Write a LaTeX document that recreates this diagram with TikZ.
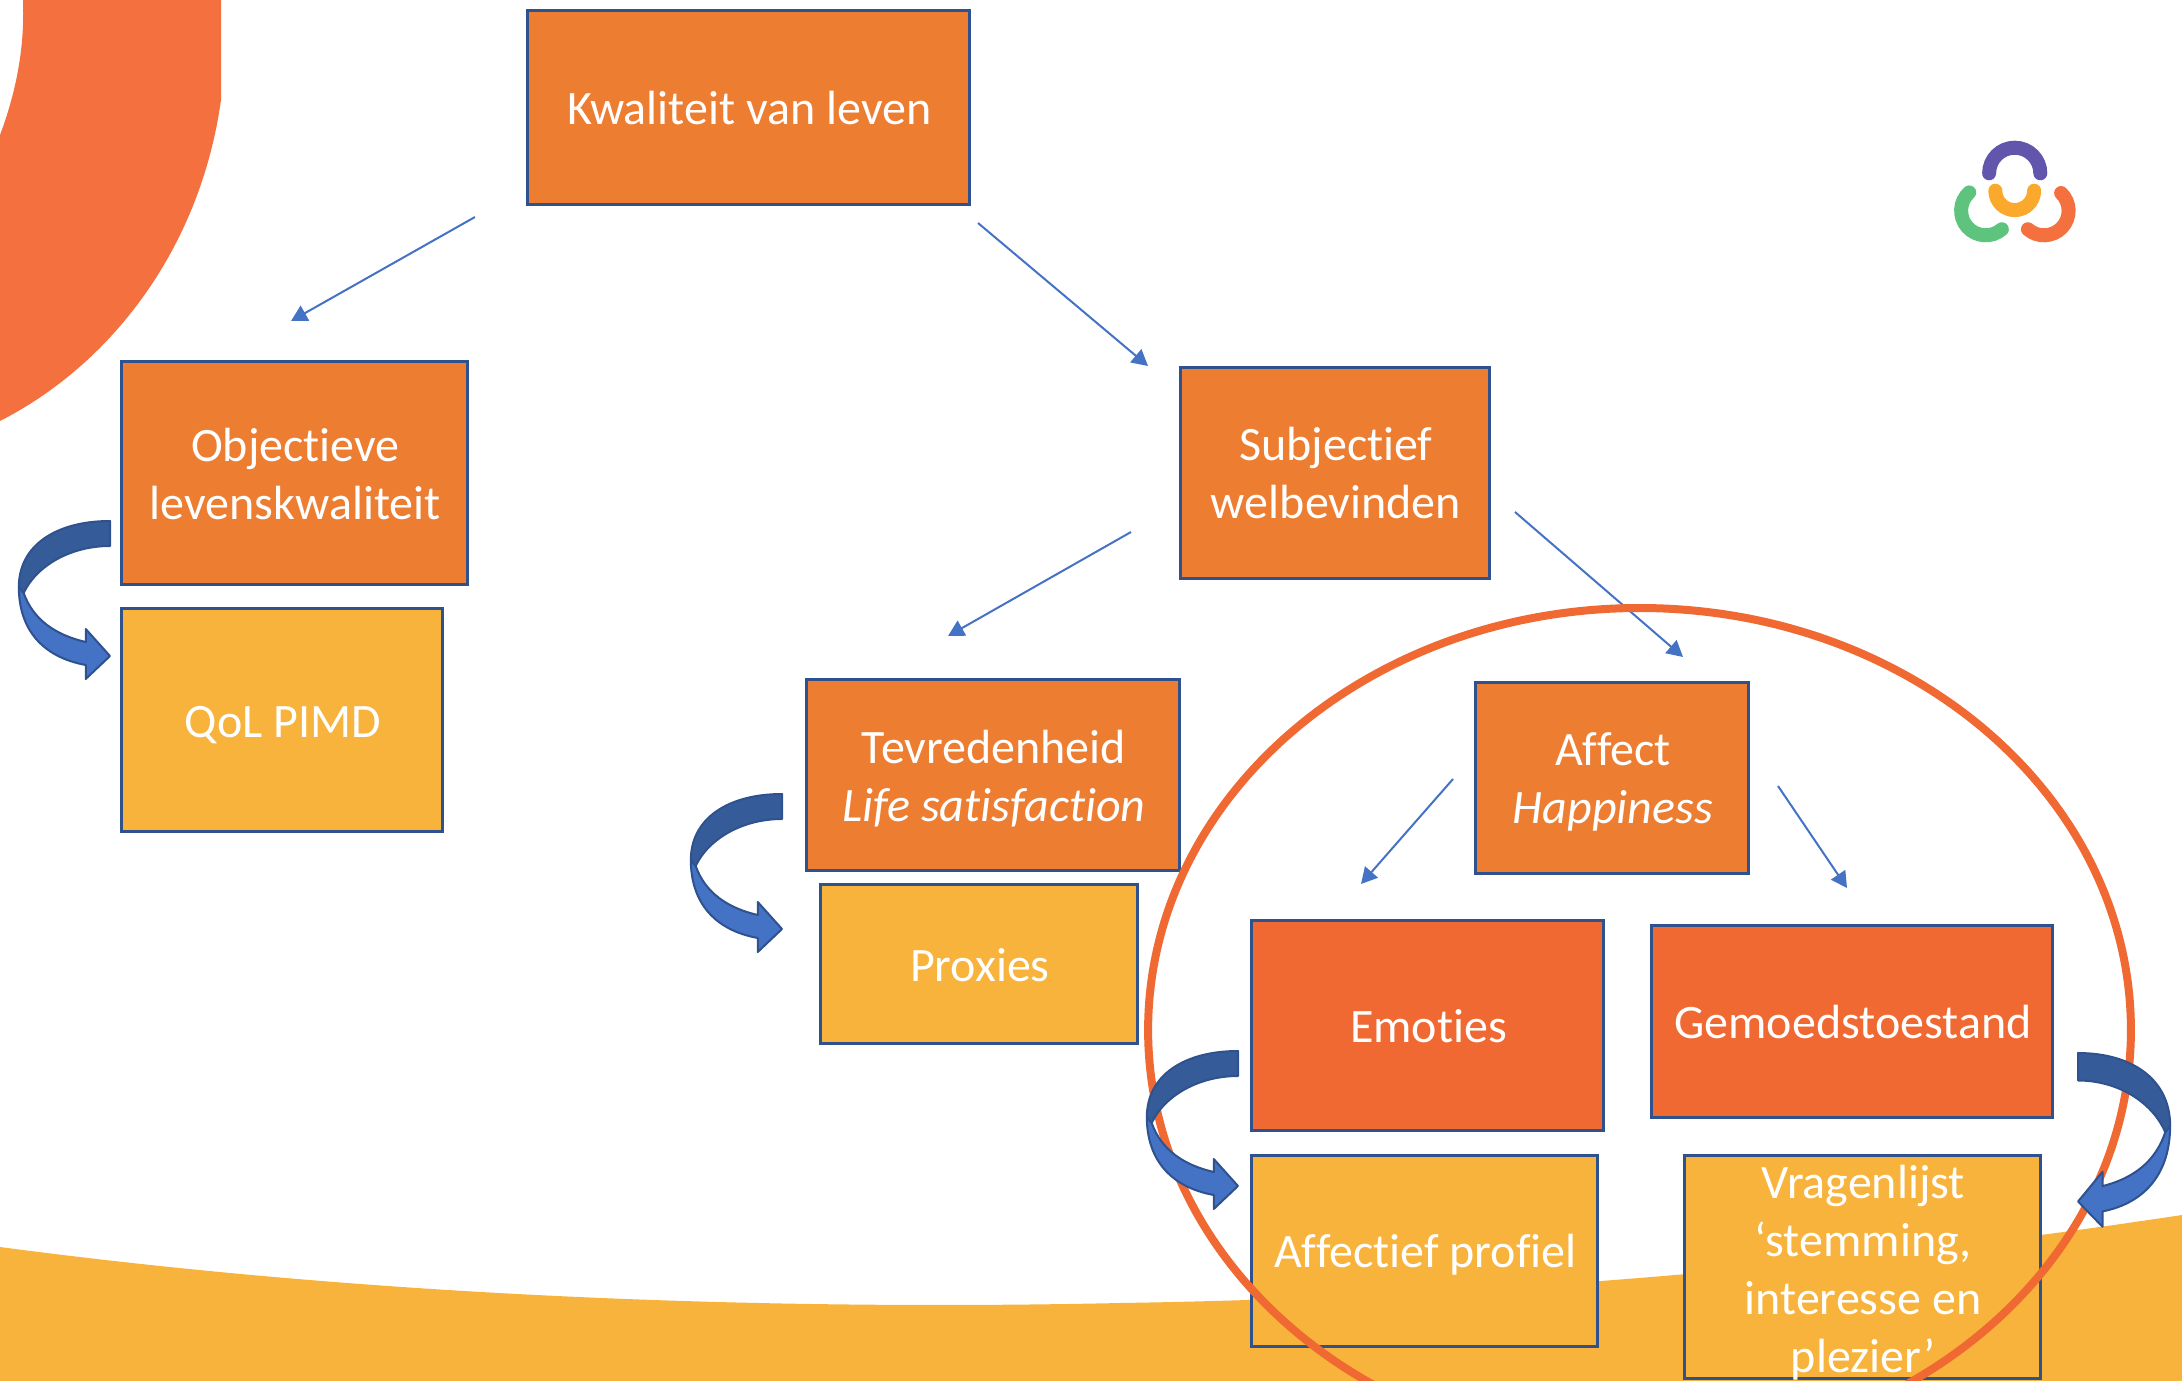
\documentclass[tikz,border=0pt]{standalone}
\usepackage{fontspec}
\setmainfont[Ligatures=NoCommon]{Carlito}
\usetikzlibrary{arrows.meta}
\definecolor{boxorange}{HTML}{ED7D31}
\definecolor{boxred}{HTML}{F06933}
\definecolor{boxyellow}{HTML}{F8B33C}
\definecolor{boxline}{HTML}{2F528F}
\definecolor{arrowblue}{HTML}{4472C4}
\definecolor{arrowdark}{HTML}{355C99}
\definecolor{bgorange}{HTML}{F5703F}
\definecolor{logopurple}{HTML}{6155AC}
\definecolor{logoorange}{HTML}{FBA92C}
\definecolor{logogreen}{HTML}{5EC47D}
\tikzset{
  basebox/.style={draw=boxline,line width=1.5pt,inner sep=0pt,outer sep=0pt,align=center,
    text=white,font=\fontsize{24}{29}\selectfont},
  obox/.style={basebox,fill=boxorange},
  rbox/.style={basebox,fill=boxred},
  ybox/.style={basebox,fill=boxyellow},
  thin arrow/.style={draw=arrowblue,line width=1pt,-{Triangle[length=8pt,width=8.5pt]}},
  logoarc/.style={line width=7pt,line cap=round},
  block/.style={draw=boxline,line width=1pt,line join=round}
}
\newcommand{\lowered}[2]{\hspace*{1.4pt}\raisebox{-#1}[\height][\depth]{#2}}
\newcommand{\curvedarrow}[1]{%
  \begin{scope}[#1]
    \path[block,fill=arrowblue] (-94,66) .. controls (-94,108) and (-70,136) .. (-25,144)
      -- (-25,158) -- (0,135) -- (-25,108) -- (-25,121)
      .. controls (-56,114) and (-79,99) .. (-89,72) -- cycle;
    \path[block,fill=arrowdark] (0,0) .. controls (-55,0) and (-94,24) .. (-94,66)
      -- (-89,72) .. controls (-76,45) and (-41,25) .. (0,25) -- cycle;
  \end{scope}}
\begin{document}
\begin{tikzpicture}[x=0.5pt,y=-0.5pt]
\useasboundingbox (0,0) rectangle (2182,1380);
\clip (0,0) rectangle (2182,1380);
% background shapes
\fill[bgorange] (23,0) -- (221,0) -- (221,100) .. controls (200,250) and (110,365) .. (0,421)
  -- (0,135) .. controls (15,95) and (25,50) .. (23,0) -- cycle;
\fill[boxyellow] (0,1247) .. controls (400,1300) and (800,1310) .. (1120,1303)
  .. controls (1500,1297) and (1850,1265) .. (2182,1215) -- (2182,1381) -- (0,1381) -- cycle;
% logo
\draw[logoarc,logopurple] ([shift={(180:12.8pt)}]2014.7,173.3) arc[start angle=180,end angle=0,radius=12.8pt];
\draw[logoarc,logoorange] ([shift={(180:9.7pt)}]2014.7,190.7) arc[start angle=180,end angle=360,radius=9.7pt];
\draw[logoarc,logogreen] ([shift={(132:12.3pt)}]1985.7,210.7) arc[start angle=132,end angle=311,radius=12.3pt];
\draw[logoarc,bgorange] ([shift={(46:12.3pt)}]2044,210.7) arc[start angle=46,end angle=-131,radius=12.3pt];
% boxes
\node[obox,minimum width=221pt,minimum height=97pt] (kwaliteit) at (748,108) {\lowered{0pt}{Kwaliteit van leven}};
\node[obox,minimum width=173pt,minimum height=111.5pt] (objectief) at (294,472.5) {\lowered{0.7pt}{Objectieve}\\\lowered{0.7pt}{levenskwaliteit}};
\node[ybox,minimum width=160.5pt,minimum height=111.5pt] (qol) at (281.5,719.5) {\lowered{2.8pt}{QoL PIMD}};
\node[obox,minimum width=154.5pt,minimum height=105.5pt] (subjectief) at (1334.5,472.5) {\lowered{0pt}{Subjectief}\\\lowered{0pt}{welbevinden}};
\node[obox,minimum width=186.5pt,minimum height=95.5pt] (tevreden) at (992.5,774.5) {\lowered{2pt}{Tevredenheid}\\\lowered{2pt}{\textit{Life satisfaction}}};
\node[ybox,minimum width=158.5pt,minimum height=79.5pt] (proxies) at (978.5,963.5) {\lowered{0.7pt}{Proxies}};
\node[obox,minimum width=136.5pt,minimum height=95.5pt] (affect) at (1611.5,777.5) {\lowered{2pt}{Affect}\\\lowered{2pt}{\textit{Happiness}}};
\node[rbox,minimum width=176pt,minimum height=105pt] (emoties) at (1427,1025) {\lowered{0.7pt}{Emoties}};
\node[rbox,minimum width=200.5pt,minimum height=96pt] (gemoed) at (1851.5,1021) {\lowered{0.7pt}{Gemoedstoestand}};
\node[ybox,minimum width=173pt,minimum height=95.5pt] (affectief) at (1424,1250.5) {\lowered{2pt}{Affectief profiel}};
\node[ybox,minimum width=178pt,minimum height=111.5pt] (vragen) at (1862,1266.5) {};
\node[align=center,text=white,inner sep=0pt,font=\fontsize{24}{29}\selectfont] (vragentext) at (1863,1273)
  {Vragenlijst\\‘stemming,\\interesse en\\plezier’};
% thin arrows
\coordinate (a1s) at (475,217); \coordinate (a1e) at (291,321);
\coordinate (a2s) at (978,223); \coordinate (a2e) at (1148,366);
\coordinate (a3s) at (1131,532); \coordinate (a3e) at (948,636);
\coordinate (a4s) at (1515,512); \coordinate (a4e) at (1683,657);
\coordinate (a5s) at (1453,779); \coordinate (a5e) at (1361,884);
\coordinate (a6s) at (1778,786); \coordinate (a6e) at (1847,888);
\foreach \n in {1,...,6} \draw[thin arrow] (a\n s) -- (a\n e);
% ellipse
\draw[boxred,line width=4pt] (1639.5,1030) ellipse [x radius=245.7pt,y radius=211pt];
% curved arrows
\curvedarrow{shift={(110,521)},xscale=0.97}
\curvedarrow{shift={(782,794)},xscale=0.97}
\curvedarrow{shift={(1238,1051)},xscale=0.97}
\curvedarrow{shift={(2078,1053)},xscale=-0.98,yscale=1.1}
\end{tikzpicture}
\end{document}
